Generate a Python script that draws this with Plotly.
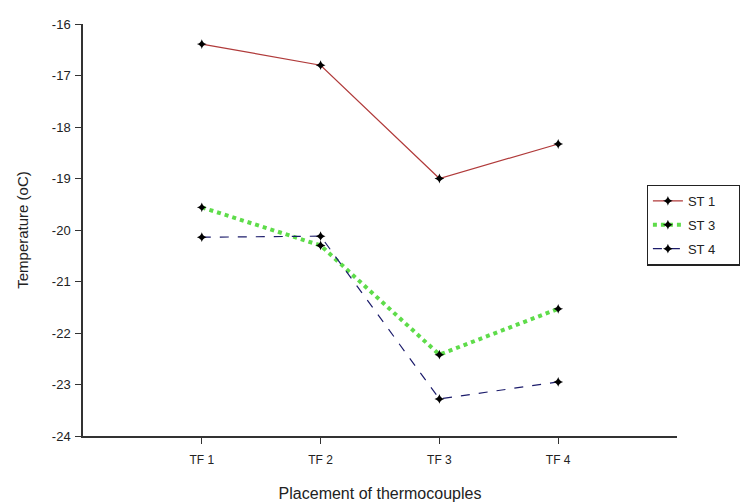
import plotly.graph_objects as go

categories = ["TF 1", "TF 2", "TF 3", "TF 4"]
positions = [1, 2, 3, 4]
st1 = [-16.39, -16.80, -19.00, -18.33]
st3 = [-19.56, -20.30, -22.42, -21.53]
st4 = [-20.14, -20.12, -23.28, -22.95]
y_ticks = [-24, -23, -22, -21, -20, -19, -18, -17, -16]
y_tick_labels = ["-24", "-23", "-22", "-21", "-20", "-19", "-18", "-17", "-16"]

font_family = "Liberation Sans, Arial, sans-serif"
marker = dict(symbol="star-diamond", size=7, color="black", line=dict(width=0))
pad = "\u00a0" * 5

fig = go.Figure()
fig.add_trace(go.Scatter(x=positions, y=st1, name="ST 1" + pad, legendgroup="a", mode="lines+markers",
                         line=dict(color="#b03a3a", width=1.2), marker=marker))
fig.add_trace(go.Scatter(x=positions, y=st3, name="ST 3" + pad, legendgroup="b", mode="lines+markers",
                         line=dict(color="#5edc4a", width=4, dash="dot"), marker=marker))
fig.add_trace(go.Scatter(x=positions, y=st4, name="ST 4" + pad, legendgroup="c", mode="lines+markers",
                         line=dict(color="#1c1c6b", width=1.2, dash="dash"), marker=marker))

fig.update_layout(
    width=753, height=504,
    margin=dict(l=83, r=76, t=24, b=68),
    paper_bgcolor="white", plot_bgcolor="white",
    font=dict(family=font_family, color="#222222", size=12),
    showlegend=True,
    legend=dict(x=0.949, y=0.61, xanchor="left", yanchor="top",
                bordercolor="#222222", borderwidth=1.2, bgcolor="white",
                font=dict(size=13), tracegroupgap=4, itemwidth=30),
    xaxis=dict(range=[0, 5], tickvals=positions, ticktext=categories,
               automargin=False,
               showline=True, linecolor="#333333", linewidth=1.5,
               ticks="outside", ticklen=6, tickcolor="#333333",
               ticklabelstandoff=6,
               showgrid=False, zeroline=False,
               title=dict(text="Placement of thermocouples", font=dict(size=16), standoff=22)),
    yaxis=dict(range=[-24, -16], tickvals=y_ticks, ticktext=y_tick_labels,
               automargin=False,
               showline=True, linecolor="#333333", linewidth=1.5,
               ticks="outside", ticklen=6, tickcolor="#333333",
               tickfont=dict(size=13), ticklabelstandoff=2,
               showgrid=False, zeroline=False,
               title=dict(text="Temperature (oC)", font=dict(size=15), standoff=20)),
)

fig.write_html("out.html")
